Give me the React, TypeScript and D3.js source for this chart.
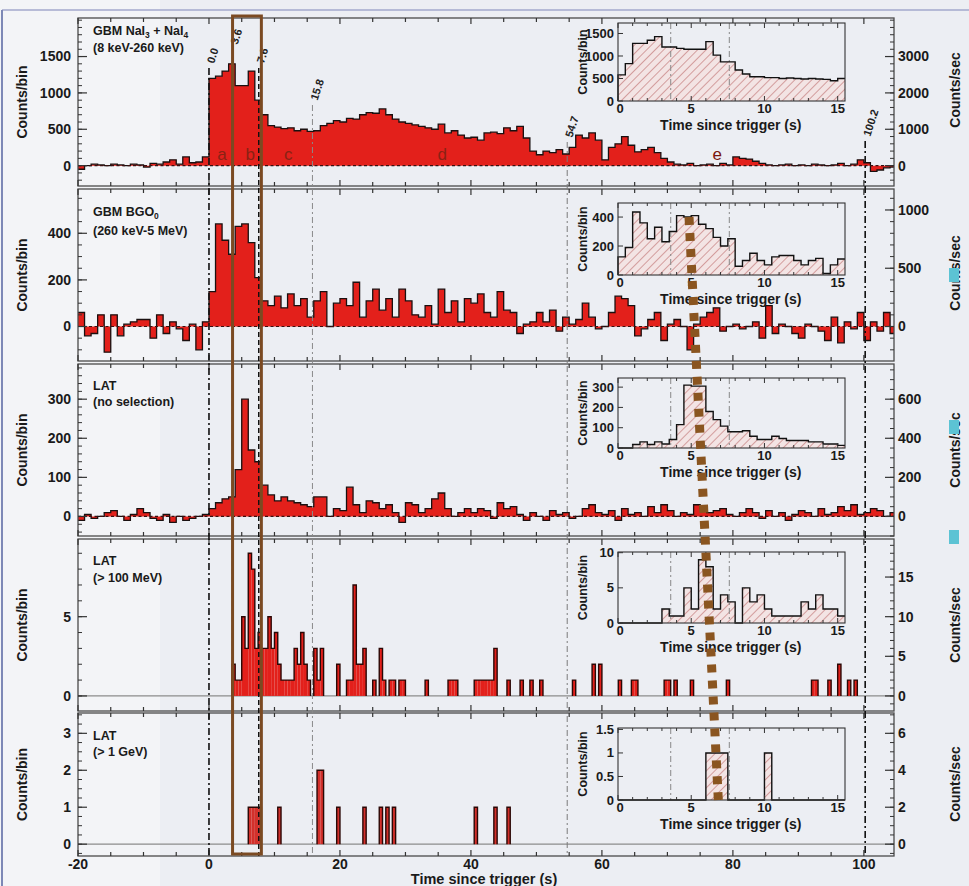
import React from 'react';
import * as d3 from 'd3';

const FONT = '"Liberation Sans", Arial, Helvetica, sans-serif';

// ---------------- data ----------------
const MAIN_T0 = -20;
const MAIN_BIN = 1;
// GBM NaI3 + NaI4 (8 keV-260 keV), counts/bin, t = -20 .. 104
const gbmNai = [
  -50, 0, 20, 10, 0, 20, 10, 0, 20, 10, -20, 30, 20, 50, 80, 20, 120, 40, 50, 120,
  1200, 1230, 1300, 1400, 1100, 1100, 1300, 900, 700, 550,
  530, 510, 520, 480, 500, 470, 480, 550, 580, 620,
  600, 650, 640, 700, 730, 720, 780, 700, 640, 600,
  580, 560, 540, 520, 500, 570, 450, 480, 420, 380,
  390, 350, 450, 460, 440, 520, 480, 540, 380, 200,
  150, 200, 180, 220, 160, 250, 420, 380, 450, 350,
  80, 250, 300, 400, 280, 190, 220, 250, 180, 100,
  50, 20, 10, 30, 0, 10, 20, 0, 30, 10,
  120, 100, 90, 60, 30, 10, 0, 10, 20, 0,
  10, 0, 20, 10, 0, 10, 30, 0, 20, 80,
  40, -80, -60, -30, -20,
];
// GBM BGO0 (260 keV-5 MeV)
const gbmBgo = [
  60, -40, -30, 50, -110, 50, -40, 10, 20, 30, 30, -50, 50, -30, 20, -10, -60, 10, -100, 20,
  150, 440, 370, 310, 430, 440, 360, 210, 110, 90,
  130, 80, 140, 90, 120, 40, 110, 150, 0, 100,
  120, 90, 190, 40, 110, 160, 70, 120, 40, 160,
  110, 50, 40, 90, 10, 160, 60, 110, 20, 120,
  100, 140, 60, 40, 150, 70, 60, -30, 10, 20,
  60, 20, 70, -20, 40, 10, 30, 100, 40, -10,
  0, 60, 130, 120, 90, -40, -10, 30, 60, -60,
  10, 30, 0, -100, 10, 40, 60, 80, -20, 0,
  10, -10, 0, 20, -50, 90, -30, 10, 0, -30,
  -50, 10, 0, -20, -60, 40, -70, 20, -10, 60,
  -60, 20, -20, 60, -30,
];
// LAT (no selection)
const latAll = [
  -10, 5, -5, 0, 10, 15, 0, -10, 5, 20, 10, -5, -10, 5, -15, 0, -10, -5, 0, 5,
  20, 35, 45, 50, 120, 300, 170, 140, 80, 55,
  40, 50, 40, 35, 30, 25, 50, 50, 0, 20,
  15, 75, 30, 10, 40, 35, 20, 30, 10, -15,
  35, 30, 10, 20, 45, 60, 20, 0, 10, 20,
  10, 20, 15, -5, 35, 20, 25, 5, -10, 10,
  0, -10, 15, 5, 10, -5, 0, 20, 30, 10,
  5, 15, -10, 20, 5, 10, 0, 25, 10, 30,
  15, 0, 10, 5, 30, 20, 10, 15, 20, 5,
  0, 10, 20, 10, -5, 15, 0, 10, -10, 5,
  15, 10, 0, 20, 5, 10, 25, 15, 30, 5,
  10, 20, 15, 0, 10,
];

const SPARSE_BIN = 0.5;
// LAT (> 100 MeV): bin start times and counts
const lat100Times = [
  3.5, 4.0, 4.5, 5.0, 5.5, 6.0, 6.5, 7.0, 7.5, 8.0,
  8.5, 9.0, 9.5, 10.0, 10.5, 11.0, 11.5, 12.0, 12.5, 13.0,
  13.5, 14.0, 14.5, 15.0, 16.0, 16.5, 17.0, 19.5, 21.0, 21.5,
  22.0, 22.5, 23.0, 23.5, 25.0, 26.0, 26.5, 27.5, 28.0, 29.0,
  29.5, 33.0, 36.5, 37.0, 37.5, 40.5, 41.0, 41.5, 42.0, 42.5,
  43.0, 43.5, 45.5, 47.5, 49.0, 50.5, 55.5, 58.5, 59.5, 62.5,
  64.5, 65.0, 69.5, 70.0, 71.0, 73.5, 79.0, 92.0, 92.5, 94.5,
  96.0, 97.5, 98.5,
];
const lat100Counts = [
  2, 1, 1, 5, 3, 9, 8, 3, 4, 3,
  3, 5, 3, 4, 2, 1, 1, 1, 1, 3,
  2, 4, 2, 1, 3, 1, 3, 2, 1, 1,
  7, 2, 2, 3, 1, 3, 1, 1, 1, 1,
  1, 1, 1, 1, 1, 1, 1, 1, 1, 1,
  1, 3, 1, 1, 1, 1, 1, 2, 2, 1,
  1, 1, 1, 1, 1, 1, 1, 1, 1, 1,
  2, 1, 1,
];
// LAT (> 1 GeV)
const lat1GeVTimes = [6.0, 6.5, 7.0, 7.5, 10.5, 16.5, 17.0, 19.5, 23.5, 26.0, 27.0, 28.0, 40.5, 43.5, 45.5];
const lat1GeVCounts = [1, 1, 1, 1, 1, 2, 2, 1, 1, 1, 1, 1, 1, 1, 1];

// insets: 0 .. 15.5 s, 0.5 s bins
const INSET_BIN = 0.5;
const insetNai = [580, 830, 1280, 1280, 1350, 1430, 1200, 1200, 1170, 1150, 1150, 1150, 1320, 1020, 870, 870, 690, 600, 540, 540, 520, 520, 500, 510, 500, 490, 500, 490, 480, 450, 500];
const insetBgo = [125, 190, 435, 360, 250, 330, 230, 300, 410, 400, 410, 350, 320, 260, 200, 250, 60, 100, 150, 100, 70, 125, 135, 135, 100, 70, 100, 115, 10, 70, 110];
const insetLat = [0, 0, 17, 30, 17, 30, 20, 42, 115, 310, 305, 305, 180, 140, 108, 80, 80, 85, 58, 42, 42, 58, 47, 37, 37, 37, 30, 30, 20, 20, 13];
const insetLat100 = [0, 0, 0, 0, 0, 0, 2, 1, 1, 5, 2, 9, 8, 2, 4, 3, 0, 5, 3, 4, 2, 1, 1, 1, 1, 3, 2, 4, 2, 2, 1];
const insetLat1GeV = [0, 0, 0, 0, 0, 0, 0, 0, 0, 0, 0, 0, 1, 1, 1, 0, 0, 0, 0, 0, 1, 0, 0, 0, 0, 0, 0, 0, 0, 0, 0];

const refTimes = [0.0, 3.6, 7.6, 15.8, 54.7, 100.2];
const refLabels = ['0.0', '3.6', '7.6', '15.8', '54.7', '100.2'];
const intervalLetters = ['a', 'b', 'c', 'd', 'e'];
const intervalTimes = [2.0, 6.3, 12.1, 35.6, 77.6];
const mainXTicks = [-20, 0, 20, 40, 60, 80, 100];
const insetXTicks = [0, 5, 10, 15];
const insetRefTimes = [3.6, 7.6];

// ---------------- layout ----------------
const W = 969;
const H = 886;
const X_DOMAIN: [number, number] = [-20, 104.6];
const X_RANGE: [number, number] = [78, 894];
const INSET_X_DOMAIN: [number, number] = [0, 15.5];
const INSET_X_RANGE: [number, number] = [618, 845];
const PLOT_TOP = 18;
const PLOT_BOTTOM = 856;
const refLabelY = [64, 45, 64, 101, 138, 137];
const refStyle = [
  { c: '#111', w: 1.6, d: '7 3 2 3' },
  { c: '#111', w: 1.4, d: '5 3' },
  { c: '#111', w: 1.5, d: '5 3' },
  { c: '#8a8a8a', w: 1, d: '6 3 2 3' },
  { c: '#7a7a7a', w: 1, d: '6 3 2 3' },
  { c: '#111', w: 1.6, d: '7 3 2 3' },
];
const RED = '#e3201b';
const BG = '#eceef3';

type Inset = { top: number; bottom: number; yMax: number; yTicks: number[]; values: number[] };
type Panel = {
  top: number; bottom: number; yDomain: [number, number];
  leftTicks: number[]; leftMinor: number; rightTicks: number[]; rightMinor: number;
  titleY: [number, number]; rightLabelY: number;
  kind: 'cont' | 'sparse'; values?: number[]; times?: number[]; counts?: number[]; fill?: string;
  inset: Inset;
};

const panels: Panel[] = [
  {
    top: 18, bottom: 186, yDomain: [-280, 2030], leftTicks: [0, 500, 1000, 1500], leftMinor: 100,
    rightTicks: [0, 1000, 2000, 3000], rightMinor: 200, titleY: [35, 52], rightLabelY: 90,
    kind: 'cont', values: gbmNai,
    inset: { top: 23, bottom: 101, yMax: 1733, yTicks: [0, 500, 1000, 1500], values: insetNai },
  },
  {
    top: 189, bottom: 361, yDomain: [-148, 590], leftTicks: [0, 200, 400], leftMinor: 50,
    rightTicks: [0, 500, 1000], rightMinor: 100, titleY: [216, 235], rightLabelY: 273,
    kind: 'cont', values: gbmBgo,
    inset: { top: 203, bottom: 275, yMax: 497, yTicks: [0, 200, 400], values: insetBgo },
  },
  {
    top: 364, bottom: 536, yDomain: [-50, 390], leftTicks: [0, 100, 200, 300], leftMinor: 20,
    rightTicks: [0, 200, 400, 600], rightMinor: 50, titleY: [390, 406], rightLabelY: 450,
    kind: 'cont', values: latAll,
    inset: { top: 378, bottom: 448, yMax: 345, yTicks: [0, 100, 200, 300], values: insetLat },
  },
  {
    top: 539, bottom: 711, yDomain: [-0.95, 9.9], leftTicks: [0, 5], leftMinor: 1,
    rightTicks: [0, 5, 10, 15], rightMinor: 1, titleY: [565, 582], rightLabelY: 625,
    kind: 'sparse', times: lat100Times, counts: lat100Counts, fill: RED,
    inset: { top: 552, bottom: 623, yMax: 10.1, yTicks: [0, 5, 10], values: insetLat100 },
  },
  {
    top: 713, bottom: 856, yDomain: [-0.32, 3.55], leftTicks: [0, 1, 2, 3], leftMinor: 0.25,
    rightTicks: [0, 2, 4, 6], rightMinor: 0.5, titleY: [740, 756], rightLabelY: 784,
    kind: 'sparse', times: lat1GeVTimes, counts: lat1GeVCounts, fill: '#d3302b',
    inset: { top: 728, bottom: 800, yMax: 1.53, yTicks: [0, 0.5, 1, 1.5], values: insetLat1GeV },
  },
];

const x = d3.scaleLinear().domain(X_DOMAIN).range(X_RANGE);
const ix = d3.scaleLinear().domain(INSET_X_DOMAIN).range(INSET_X_RANGE);

function stepPoints(values: number[], t0: number, bin: number): [number, number][] {
  const pts: [number, number][] = values.map((v, k) => [t0 + k * bin, v]);
  pts.push([t0 + values.length * bin, values[values.length - 1]]);
  return pts;
}

// contiguous runs of sparse bins -> closed step outlines
function sparseRuns(times: number[], counts: number[], bin: number): [number, number][][] {
  const runs: { pts: [number, number][]; end: number }[] = [];
  let cur: { pts: [number, number][]; end: number } | null = null;
  times.forEach((t, k) => {
    if (cur && Math.abs(cur.end - t) < 1e-6) {
      cur.pts.push([t, counts[k]]);
      cur.end = t + bin;
    } else {
      cur = { pts: [[t, counts[k]]], end: t + bin };
      runs.push(cur);
    }
  });
  return runs.map(r => [
    [r.pts[0][0], 0] as [number, number],
    ...r.pts,
    [r.end, r.pts[r.pts.length - 1][1]] as [number, number],
    [r.end, 0] as [number, number],
  ]);
}

function minorTicks(lo: number, hi: number, step: number): number[] {
  const start = Math.ceil(lo / step) * step;
  return d3.range(start, hi + 1e-9, step);
}

const txt = { fontFamily: FONT, fontWeight: 700 as const, fill: '#1a1a1a' };

function PanelTitle({ i, p }: { i: number; p: Panel }) {
  const s = { ...txt, fontSize: 12.5 };
  const sub = { fontSize: 8.5, dy: 3 } as any;
  const back = { dy: -3 } as any;
  const [y1, y2] = p.titleY;
  if (i === 0)
    return (
      <g>
        <text x={93} y={y1} {...s}>GBM NaI<tspan {...sub}>3</tspan><tspan {...back}> + NaI</tspan><tspan {...sub}>4</tspan></text>
        <text x={93} y={y2} {...s}>(8 keV-260 keV)</text>
      </g>
    );
  if (i === 1)
    return (
      <g>
        <text x={93} y={y1} {...s}>GBM BGO<tspan {...sub}>0</tspan></text>
        <text x={93} y={y2} {...s}>(260 keV-5 MeV)</text>
      </g>
    );
  const second = ['(no selection)', '(> 100 MeV)', '(> 1 GeV)'][i - 2];
  return (
    <g>
      <text x={93} y={y1} {...s}>LAT</text>
      <text x={93} y={y2} {...s}>{second}</text>
    </g>
  );
}

function InsetChart({ ins }: { ins: Inset }) {
  const iy = d3.scaleLinear().domain([0, ins.yMax]).range([ins.bottom, ins.top]);
  const pts = stepPoints(ins.values, 0, INSET_BIN);
  const area = d3.area<[number, number]>().x(d => ix(d[0])).y0(iy(0)).y1(d => iy(d[1])).curve(d3.curveStepAfter)(pts) || '';
  const outline = d3.line<[number, number]>().x(d => ix(d[0])).y(d => iy(d[1])).curve(d3.curveStepAfter)(
    [[0, 0], ...pts.slice(0, -1), [INSET_X_DOMAIN[1], pts[pts.length - 1][1]]]
  ) || '';
  const [x0, x1] = INSET_X_RANGE;
  const xMinor = d3.range(0, 15.5, 1);
  const midY = (ins.top + ins.bottom) / 2;
  return (
    <g>
      <rect x={x0} y={ins.top} width={x1 - x0} height={ins.bottom - ins.top} fill={BG} />
      <path d={area} fill="url(#hatch)" />
      {insetRefTimes.map(t => (
        <line key={t} x1={ix(t)} x2={ix(t)} y1={ins.top} y2={ins.bottom} stroke="#888" strokeWidth={1} strokeDasharray="6 3 2 3" />
      ))}
      <path d={outline} fill="none" stroke="#111" strokeWidth={1.4} />
      <rect x={x0} y={ins.top} width={x1 - x0} height={ins.bottom - ins.top} fill="none" stroke="#333" strokeWidth={1.1} />
      {xMinor.map(t => {
        const len = t % 5 === 0 ? 5 : 3;
        return (
          <g key={t}>
            <line x1={ix(t)} x2={ix(t)} y1={ins.bottom} y2={ins.bottom - len} stroke="#333" />
            <line x1={ix(t)} x2={ix(t)} y1={ins.top} y2={ins.top + len} stroke="#333" />
          </g>
        );
      })}
      {ins.yTicks.map(v => (
        <line key={v} x1={x0} x2={x0 + 5} y1={iy(v)} y2={iy(v)} stroke="#333" />
      ))}
      {ins.yTicks.map(v => (
        <text key={'l' + v} x={614} y={iy(v)} dy="0.35em" textAnchor="end" {...txt} fontSize={13}>{String(v)}</text>
      ))}
      {insetXTicks.map(t => (
        <text key={'x' + t} x={ix(t) + (t === 0 ? 2 : 0)} y={ins.bottom + 12} textAnchor="middle" {...txt} fontSize={13}>{String(t)}</text>
      ))}
      <text x={ix(7.7)} y={ins.bottom + 29} textAnchor="middle" {...txt} fontSize={14}>Time since trigger (s)</text>
      <text transform={`translate(587,${midY}) rotate(-90)`} textAnchor="middle" {...txt} fontSize={12.5}>Counts/bin</text>
    </g>
  );
}

function MainPanel({ p, i }: { p: Panel; i: number }) {
  const y = d3.scaleLinear().domain(p.yDomain).range([p.bottom, p.top]);
  const yR = d3.scaleLinear().domain([p.yDomain[0] * 2, p.yDomain[1] * 2]).range([p.bottom, p.top]);
  const [xl, xr] = X_RANGE;
  const clipId = `clip${i}`;
  let marks: React.ReactNode = null;
  if (p.kind === 'cont' && p.values) {
    const pts = stepPoints(p.values, MAIN_T0, MAIN_BIN);
    const area = d3.area<[number, number]>().x(d => x(d[0])).y0(y(0)).y1(d => y(d[1])).curve(d3.curveStepAfter)(pts) || '';
    const line = d3.line<[number, number]>().x(d => x(d[0])).y(d => y(d[1])).curve(d3.curveStepAfter)(pts) || '';
    marks = (
      <g clipPath={`url(#${clipId})`}>
        <path d={area} fill={RED} />
        <path d={line} fill="none" stroke="#1a1010" strokeWidth={1.3} />
        <line x1={xl} x2={xr} y1={y(0)} y2={y(0)} stroke="#3a1010" strokeWidth={1.2} strokeDasharray="3 2.5" />
      </g>
    );
  } else if (p.times && p.counts) {
    const runs = sparseRuns(p.times, p.counts, SPARSE_BIN);
    const lineGen = d3.line<[number, number]>().x(d => x(d[0])).y(d => y(d[1])).curve(d3.curveStepAfter);
    marks = (
      <g clipPath={`url(#${clipId})`}>
        <line x1={xl} x2={xr} y1={y(0)} y2={y(0)} stroke="#8c8c8c" strokeWidth={1.3} />
        {p.times.map((t, k) => (
          <rect key={k} x={x(t)} width={x(t + SPARSE_BIN) - x(t)} y={y(p.counts![k])} height={y(0) - y(p.counts![k])}
            fill={p.fill} />
        ))}
        {runs.map((r, k) => (
          <path key={'o' + k} d={lineGen(r) || ''} fill="none" stroke="#2a0806" strokeWidth={1.4} />
        ))}
      </g>
    );
  }
  const xTicks = d3.range(-20, 105, 5);
  const leftMinor = minorTicks(p.yDomain[0], p.yDomain[1], p.leftMinor);
  const rightMinor = minorTicks(p.yDomain[0] * 2, p.yDomain[1] * 2, p.rightMinor);
  const midY = (p.top + p.bottom) / 2;
  return (
    <g>
      <defs>
        <clipPath id={clipId}>
          <rect x={xl} y={p.top} width={xr - xl} height={p.bottom - p.top} />
        </clipPath>
      </defs>
      {marks}
      <rect x={xl} y={p.top} width={xr - xl} height={p.bottom - p.top} fill="none" stroke="#4a4a4a" strokeWidth={1.3} />
      {xTicks.map(t => {
        const len = t % 20 === 0 ? 6 : 4;
        return (
          <g key={t}>
            <line x1={x(t)} x2={x(t)} y1={p.top} y2={p.top + len} stroke="#333" strokeWidth={1.2} />
            <line x1={x(t)} x2={x(t)} y1={p.bottom} y2={p.bottom - len} stroke="#333" strokeWidth={1.2} />
          </g>
        );
      })}
      {leftMinor.map(v => (
        <line key={'lm' + v} x1={xl} x2={xl + 4} y1={y(v)} y2={y(v)} stroke="#333" />
      ))}
      {p.leftTicks.map(v => (
        <g key={'lt' + v}>
          <line x1={xl} x2={xl + 9} y1={y(v)} y2={y(v)} stroke="#333" strokeWidth={1.2} />
          <text x={71} y={y(v)} dy="0.35em" textAnchor="end" {...txt} fontSize={14}>{String(v)}</text>
        </g>
      ))}
      {rightMinor.map(v => (
        <line key={'rm' + v} x1={xr} x2={xr - 4} y1={yR(v)} y2={yR(v)} stroke="#333" />
      ))}
      {p.rightTicks.map(v => (
        <g key={'rt' + v}>
          <line x1={xr} x2={xr - 9} y1={yR(v)} y2={yR(v)} stroke="#333" strokeWidth={1.2} />
          <text x={898} y={yR(v)} dy="0.35em" textAnchor="start" {...txt} fontSize={14}>{String(v)}</text>
        </g>
      ))}
      <text transform={`translate(27,${midY}) rotate(-90)`} textAnchor="middle" {...txt} fontSize={14}>Counts/bin</text>
      <text transform={`translate(960,${p.rightLabelY}) rotate(-90)`} textAnchor="middle" {...txt} fontSize={14}>Counts/sec</text>
      <PanelTitle i={i} p={p} />
    </g>
  );
}

export default function App() {
  const ins2 = panels[1].inset;
  const ins5 = panels[4].inset;
  const iy2 = d3.scaleLinear().domain([0, ins2.yMax]).range([ins2.bottom, ins2.top]);
  const iy5 = d3.scaleLinear().domain([0, ins5.yMax]).range([ins5.bottom, ins5.top]);
  const p1 = panels[0];
  const y1 = d3.scaleLinear().domain(p1.yDomain).range([p1.bottom, p1.top]);
  return (
    <svg width={W} height={H} viewBox={`0 0 ${W} ${H}`} style={{ position: 'absolute', left: 0, top: 0, display: 'block' }}>
      <defs>
        <pattern id="hatch" patternUnits="userSpaceOnUse" width={6} height={6} patternTransform="rotate(45)">
          <rect width={6} height={6} fill="#f3e4e4" />
          <line x1={0} y1={0} x2={0} y2={6} stroke="#b86262" strokeWidth={1.1} />
        </pattern>
      </defs>
      <rect x={0} y={0} width={W} height={H} fill={BG} />
      <rect x={0} y={0} width={160} height={H} fill="#f3f4f7" />
      <line x1={2} x2={W} y1={10} y2={10} stroke="#a3a8cc" strokeWidth={1.5} />
      <line x1={2} x2={2} y1={10} y2={H} stroke="#7d88b6" strokeWidth={2} />

      {panels.map((p, i) => <MainPanel key={i} p={p} i={i} />)}

      {refTimes.map((t, k) => (
        <g key={t}>
          <line x1={x(t)} x2={x(t)} y1={refLabelY[k] + 4} y2={PLOT_BOTTOM} stroke={refStyle[k].c} strokeWidth={refStyle[k].w} strokeDasharray={refStyle[k].d} />
          <text transform={`translate(${x(t) + 5},${refLabelY[k]}) rotate(-72)`} {...txt} fontSize={11} fill="#222">{refLabels[k]}</text>
        </g>
      ))}

      {intervalLetters.map((l, k) => (
        <text key={l} x={x(intervalTimes[k])} y={y1(0) - 6} textAnchor="middle" fontFamily={FONT} fontSize={17}
          fill={k < 4 ? '#8a2214' : '#7a160e'}>{l}</text>
      ))}

      {panels.map((p, i) => <InsetChart key={'in' + i} ins={p.inset} />)}

      {mainXTicks.map(t => (
        <text key={t} x={x(t)} y={869} textAnchor="middle" {...txt} fontSize={14}>{String(t)}</text>
      ))}
      <text x={x(42)} y={884} textAnchor="middle" {...txt} fontSize={14.5}>Time since trigger (s)</text>

      <rect x={x(3.6)} y={PLOT_TOP - 2} width={x(8.0) - x(3.6)} height={PLOT_BOTTOM - PLOT_TOP} fill="none" stroke="#7b4a22" strokeWidth={3} />
      <line x1={ix(4.85)} y1={iy2(400)} x2={ix(6.85)} y2={iy5(0)} stroke="#8a5520" strokeWidth={9} strokeDasharray="8 8" />

      {[268, 420, 530].map(yy => (
        <rect key={yy} x={949} y={yy} width={10} height={14} fill="#5cc3d4" />
      ))}
    </svg>
  );
}
